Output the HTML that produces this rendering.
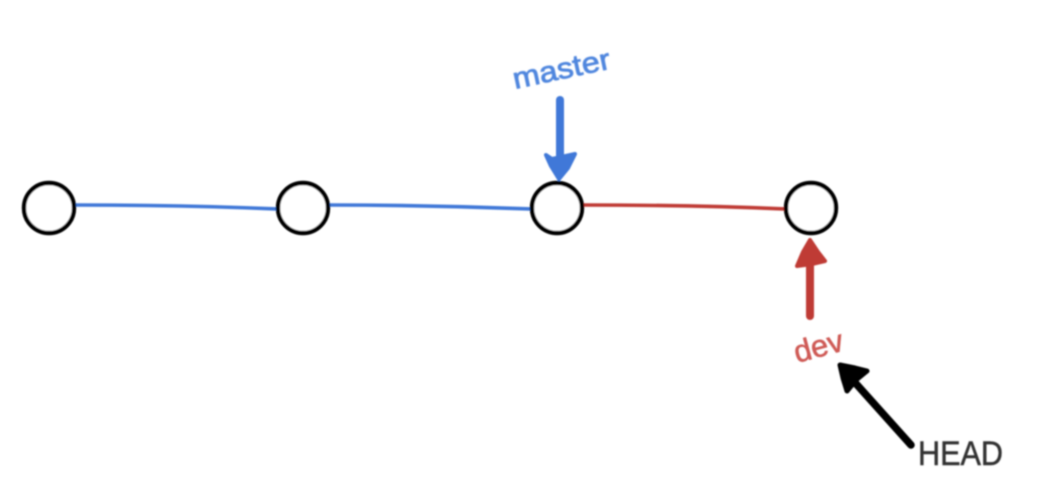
<!DOCTYPE html>
<html>
<head>
<meta charset="utf-8">
<style>
html,body{margin:0;padding:0;background:#fff;width:1058px;height:500px;overflow:hidden}
svg{display:block}
text{font-family:"Liberation Sans",sans-serif}
</style>
</head>
<body>
<svg width="1058" height="500" viewBox="0 0 1058 500">
  <defs><filter id="soft" x="-10%" y="-10%" width="120%" height="120%"><feGaussianBlur stdDeviation="0.8"/></filter></defs>
  <rect width="1058" height="500" fill="#ffffff"/>
  <g filter="url(#soft)">
    <path d="M75 205 Q180 205 278 209" fill="none" stroke="#3f78d8" stroke-width="3.6"/>
    <path d="M329 205 Q430 205 532 209" fill="none" stroke="#3f78d8" stroke-width="3.6"/>
    <path d="M583 205 Q690 205 786 209" fill="none" stroke="#bf3a34" stroke-width="3.6"/>
    <circle cx="49" cy="208" r="25" fill="#fff" stroke="#000" stroke-width="4.4"/>
    <circle cx="303" cy="208" r="25" fill="#fff" stroke="#000" stroke-width="4.4"/>
    <circle cx="557" cy="208" r="25" fill="#fff" stroke="#000" stroke-width="4.4"/>
    <circle cx="811" cy="208" r="25" fill="#fff" stroke="#000" stroke-width="4.4"/>
    <g>
      <line x1="560" y1="100" x2="560" y2="160" stroke="#3f78d8" stroke-width="8" stroke-linecap="round"/>
      <path d="M546 155 L552 159 L575 154 L568 168 L559 179 L551 166 Z" fill="#3f78d8" stroke="#3f78d8" stroke-width="4" stroke-linejoin="round"/>
    </g>
    <g>
      <line x1="810" y1="316" x2="810" y2="260" stroke="#bf3a34" stroke-width="8" stroke-linecap="round"/>
      <path d="M810 240 L818 252 L825 261 L812 264 L797 266 L803 252 Z" fill="#bf3a34" stroke="#bf3a34" stroke-width="4" stroke-linejoin="round"/>
    </g>
    <g>
      <line x1="911" y1="445" x2="850" y2="377" stroke="#050505" stroke-width="7.5" stroke-linecap="round"/>
      <path d="M840 365 L855 368 L867 371 L856 380 L847 391 L843 378 Z" fill="#050505" stroke="#050505" stroke-width="5" stroke-linejoin="round"/>
    </g>
    <text transform="translate(515 89) rotate(-12)" font-size="30" fill="#4f86de" stroke="#4f86de" stroke-width="0.8" textLength="99" lengthAdjust="spacingAndGlyphs">master</text>
    <text transform="translate(797 363) rotate(-15)" font-size="31" fill="#cf5a55" stroke="#cf5a55" stroke-width="0.6" textLength="50" lengthAdjust="spacingAndGlyphs">dev</text>
    <text x="918" y="465" font-size="34" fill="#333" stroke="#333" stroke-width="0.5" textLength="85" lengthAdjust="spacingAndGlyphs">HEAD</text>
  </g>
</svg>
</body>
</html>
